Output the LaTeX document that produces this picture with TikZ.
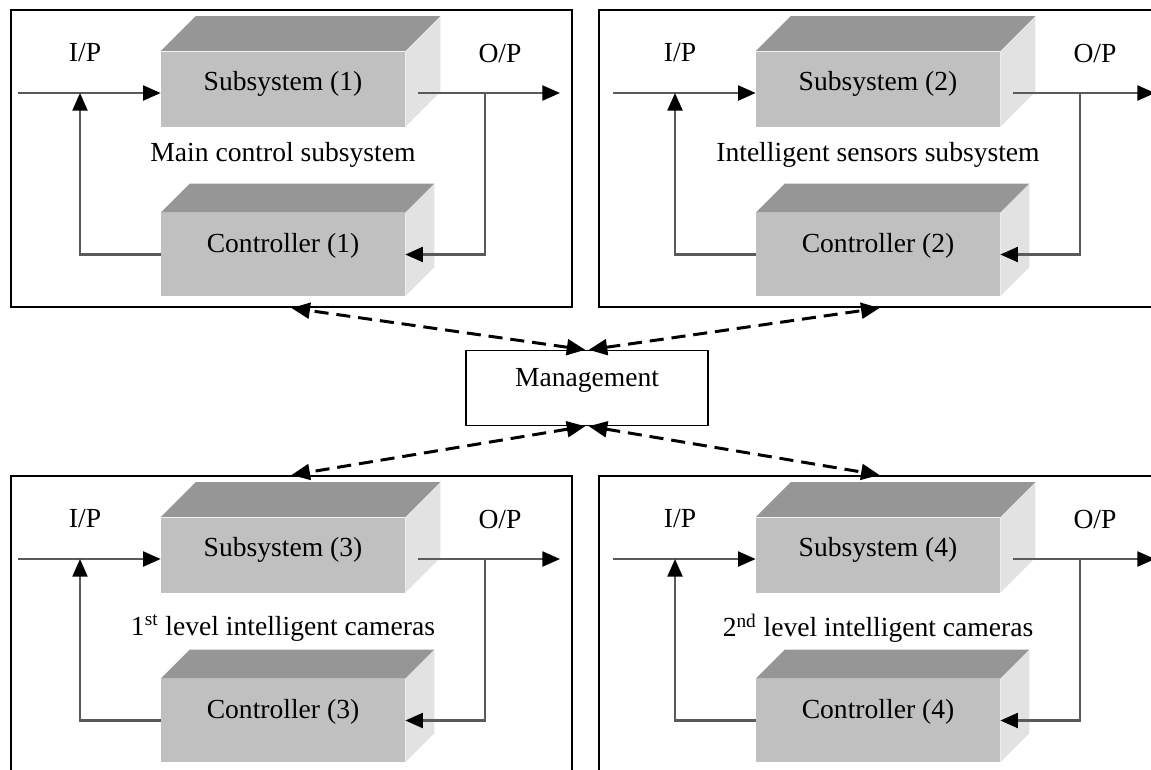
\documentclass[tikz,border=0pt]{standalone}
\usepackage{fontspec}
\setmainfont{Liberation Serif}
\usetikzlibrary{arrows.meta}
\definecolor{frontgray}{RGB}{192,192,192}
\definecolor{topgray}{RGB}{150,150,150}
\definecolor{sidegray}{RGB}{226,226,226}
\definecolor{linegray}{RGB}{90,90,90}

\begin{document}
\begin{tikzpicture}[x=0.02cm, y=-0.02cm,
  font=\fontsize{15.7}{19}\selectfont,
  panel/.style={draw, line width=1.2pt, minimum width=11.22cm, minimum height=5.94cm, inner sep=0pt},
  front/.style={fill=frontgray, minimum width=4.88cm, inner sep=0pt},
  subsys/.style={front, minimum height=1.5cm, text height=0.7em, text depth=0.5em},
  ctrl/.style={front, minimum height=1.66cm, text height=0.7em, text depth=0.9em},
  mgmt/.style={draw, line width=0.8pt, minimum width=4.84cm, minimum height=1.5cm, text height=0.7em, text depth=0.9em},
  sig/.style={draw=linegray, line width=1.3pt, -{Triangle[length=10pt,width=8.5pt,color=black]}},
  link/.style={line width=1.7pt, dash pattern=on 8pt off 4.5pt,
    {Triangle[length=10.5pt,width=9pt]}-{Triangle[length=10.5pt,width=9pt]}}]

\useasboundingbox (0,0) rectangle (1151,769);

%the four closed loops
  \foreach \dx/\dy/\bx/\ly/\n/\lbl in {0/0/10/155/1/Main control subsystem,
      595/0/598/155/2/Intelligent sensors subsystem,
      0/466/10/162/3/1\textsuperscript{st} level intelligent cameras,
      595/466/598/162/4/2\textsuperscript{nd} level intelligent cameras} {
  \begin{scope}[shift={(\dx,\dy)}]
    \node[panel, anchor=north west] (p\n) at ({\bx-\dx},9) {};
    \node[subsys] (s\n) at (283,89) {Subsystem (\n)};
    \node[ctrl] (c\n) at (283,254.5) {Controller (\n)};
    % top and side faces of the blocks
    \foreach \b/\d in {s\n/35, c\n/29} {
      \fill[topgray] (\b.north west) -- ([shift={(\d,-\d)}]\b.north west)
        -- ([shift={(\d,-\d)}]\b.north east) -- (\b.north east) -- cycle;
      \fill[sidegray] (\b.north east) -- ([shift={(\d,-\d)}]\b.north east)
        -- ([shift={(\d,-\d)}]\b.south east) -- (\b.south east) -- cycle;
    }
    \node (ip\n) at (85,53) {I/P};
    \node (op\n) at (500,53) {O/P};
    \node (l\n) at (283,\ly) {\lbl};
    % signals
    \coordinate (in\n) at (18,93);
    \coordinate (j\n) at (80,93);
    \coordinate (o\n) at (418,93);
    \coordinate (k\n) at (485,93);
    \coordinate (out\n) at (560,93);
    \draw[sig] (in\n) -- (in\n -| s\n.west);
    \draw[sig] (c\n.west) -| (j\n);
    \draw[sig] (o\n) -- (out\n);
    \draw[sig] (k\n) |- (c\n.east);
  \end{scope}
  }

%management and its links
  \node[mgmt] (m) at (587,388) {Management};
  \draw[link] ([xshift=-1pt]m.north) -- (p1.south);
  \draw[link] ([xshift=1pt]m.north) -- (p2.south);
  \draw[link] ([xshift=-1pt]m.south) -- (p3.north);
  \draw[link] ([xshift=1pt]m.south) -- (p4.north);

\end{tikzpicture}
\end{document}
